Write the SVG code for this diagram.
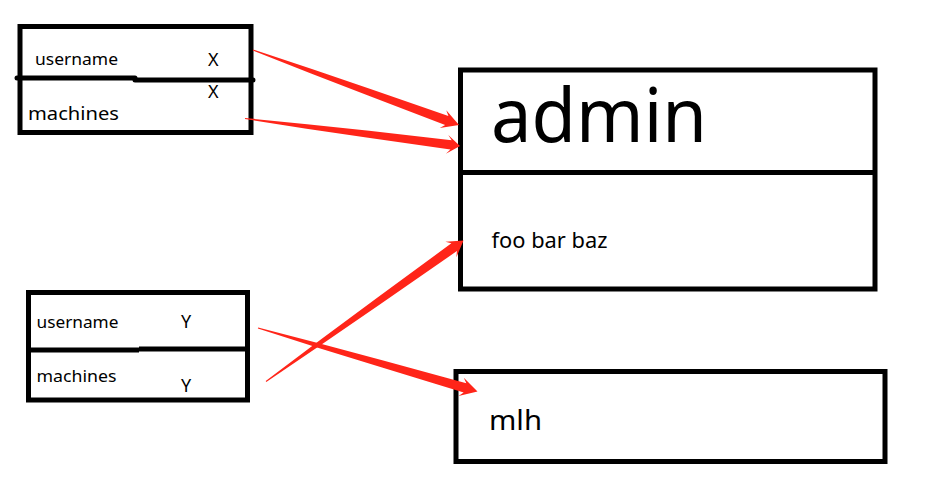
<svg xmlns="http://www.w3.org/2000/svg" width="930" height="487" viewBox="0 0 930 487">
<style>
.box{fill:none;stroke:#000;stroke-width:5}
.div{stroke:#000;stroke-width:5;fill:none}
.t{font-family:"Noto Sans","Open Sans",sans-serif;fill:#000}
.arr{fill:#ff2519;stroke:none}
</style>
<rect width="930" height="487" fill="#fff"/>
<g id="node-x">
<rect class="box" x="20" y="26.5" width="231" height="106"/>
<line class="div" x1="17" y1="78" x2="135" y2="78" stroke-linecap="round"/>
<line class="div" x1="135" y1="80" x2="253" y2="80" stroke-linecap="round"/>
<text class="t" x="35" y="64.5" font-size="16" textLength="83" lengthAdjust="spacingAndGlyphs">username</text>
<text class="t" x="208" y="66" font-size="18">X</text>
<text class="t" x="208" y="98" font-size="18">X</text>
<text class="t" x="28" y="120" font-size="18" textLength="91" lengthAdjust="spacingAndGlyphs">machines</text>
</g>
<g id="node-y">
<rect class="box" x="28.5" y="292.5" width="219" height="107.5"/>
<line class="div" x1="28.5" y1="350" x2="139" y2="350"/>
<line class="div" x1="139" y1="349" x2="247.5" y2="349"/>
<text class="t" x="36.5" y="328" font-size="16" textLength="82" lengthAdjust="spacingAndGlyphs">username</text>
<text class="t" x="181" y="328" font-size="18">Y</text>
<text class="t" x="36.5" y="382" font-size="16.5" textLength="80" lengthAdjust="spacingAndGlyphs">machines</text>
<text class="t" x="181" y="392" font-size="18">Y</text>
</g>
<g id="node-admin">
<rect class="box" x="460.5" y="70" width="414.5" height="219"/>
<line class="div" x1="460.5" y1="172.5" x2="875" y2="172.5"/>
<text class="t" x="491" y="142" font-size="74" textLength="216" lengthAdjust="spacingAndGlyphs">admin</text>
<text class="t" x="491.5" y="247.5" font-size="21" textLength="116" lengthAdjust="spacingAndGlyphs">foo bar baz</text>
</g>
<g id="node-mlh">
<rect class="box" x="456" y="371.5" width="429" height="90"/>
<text class="t" x="489" y="430" font-size="27" textLength="53" lengthAdjust="spacingAndGlyphs">mlh</text>
</g>
<g id="connectors">
<polygon class="arr" points="253.17,49.53 311.9,69.06 370.47,89.04 448.41,116.09 446.28,110.25 459,125 439.78,128.11 445.16,125.01 368.07,95.62 310.36,73.28 252.83,50.47"/>
<polygon class="arr" points="245.06,118 307.11,124.18 369.08,130.85 451.67,140.15 448.32,134.93 460,146 445.9,153.77 450.47,149.57 368.2,137.79 306.53,128.64 244.94,119"/>
<polygon class="arr" points="265.71,381.09 321.13,339.37 376.85,298.06 451.38,243.31 445.36,241.78 463.5,240.5 456.4,257.24 456.9,251.05 380.91,303.76 323.75,343.03 266.29,381.91"/>
<polygon class="arr" points="258.14,327.52 320.73,343.81 383.18,360.57 466.33,383.33 463.81,377.65 477.5,391.5 458.53,395.91 463.69,392.45 381.24,367.29 319.48,348.13 257.86,328.48"/>
</g>
</svg>
